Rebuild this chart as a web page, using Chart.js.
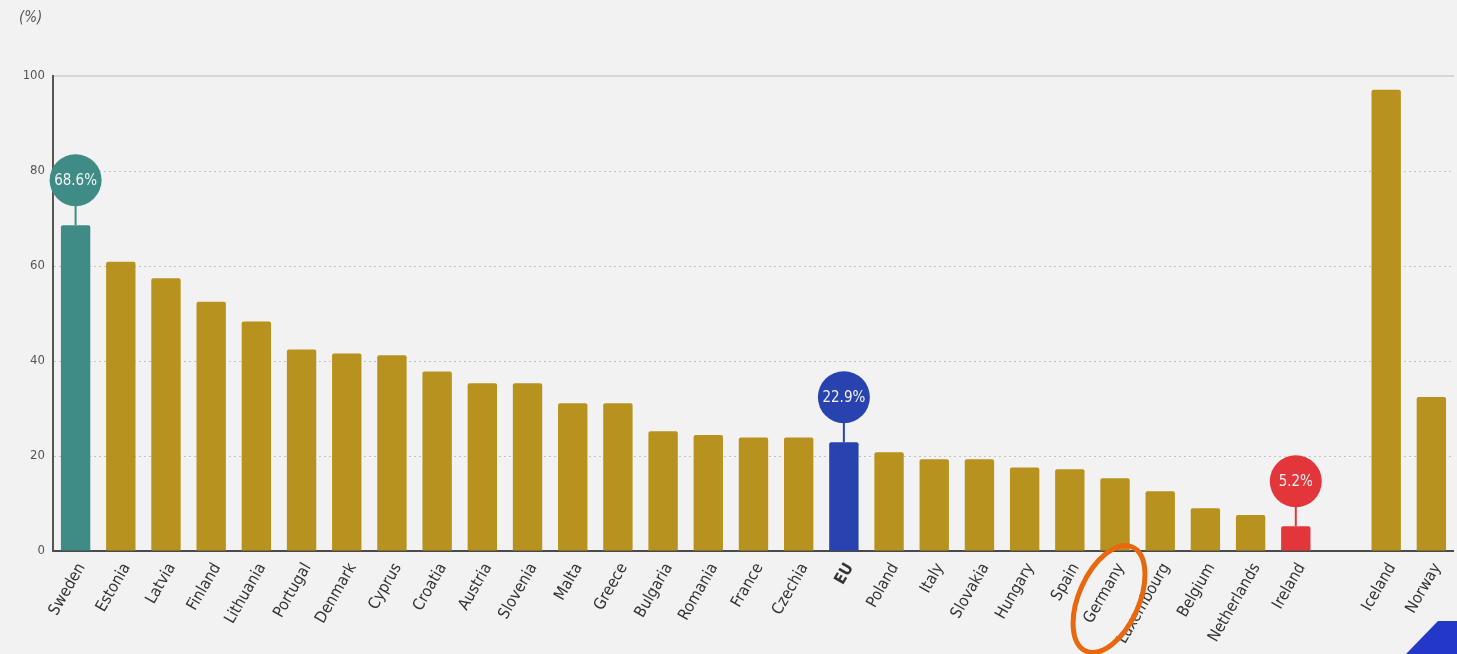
<!DOCTYPE html>
<html>
<head>
<meta charset="utf-8">
<script src="https://cdn.jsdelivr.net/npm/chart.js@4"></script>
<style>
  html, body { margin: 0; padding: 0; background: #f2f2f2; overflow: hidden; }
  #wrap { position: relative; width: 1457px; height: 654px; }
</style>
</head>
<body>
<div id="wrap"><canvas id="chart" width="1457" height="654"></canvas></div>
<script>
const countries = ['Sweden', 'Estonia', 'Latvia', 'Finland', 'Lithuania', 'Portugal', 'Denmark', 'Cyprus',
  'Croatia', 'Austria', 'Slovenia', 'Malta', 'Greece', 'Bulgaria', 'Romania', 'France', 'Czechia', 'EU',
  'Poland', 'Italy', 'Slovakia', 'Hungary', 'Spain', 'Germany', 'Luxembourg', 'Belgium', 'Netherlands',
  'Ireland', '', 'Iceland', 'Norway']
const shares = [68.6, 60.9, 57.4, 52.5, 48.3, 42.4, 41.6, 41.2,
  37.8, 35.3, 35.3, 31.1, 31.1, 25.2, 24.4, 23.9, 23.9, 22.9,
  20.8, 19.3, 19.3, 17.6, 17.2, 15.3, 12.6, 9.0, 7.6,
  5.2, null, 97.1, 32.4]
const yTicks = [0, 20, 40, 60, 80, 100]

// Highlighted bars with a pin label.
const pins = {Sweden: '#3f8b86', EU: '#2842b0', Ireland: '#e2363b'}
const circled = 'Germany'

const gold = '#b7921e'
const labelFont = '"DejaVu Sans Condensed", "Liberation Sans Narrow", sans-serif'

const pinPlugin = {
  id: 'pins',
  afterDatasetsDraw(chart) {
    const ctx = chart.ctx
    const meta = chart.getDatasetMeta(0)
    countries.forEach((name, i) => {
      const color = pins[name]
      if (!color) return
      const bar = meta.data[i]
      const cx = bar.x
      const cy = bar.y - 45
      ctx.save()
      ctx.strokeStyle = color
      ctx.lineWidth = 2
      ctx.beginPath()
      ctx.moveTo(cx, cy + 20)
      ctx.lineTo(cx, bar.y)
      ctx.stroke()
      ctx.fillStyle = color
      ctx.beginPath()
      ctx.arc(cx, cy, 26, 0, Math.PI * 2)
      ctx.fill()
      ctx.fillStyle = '#f4f4f4'
      ctx.font = '15px ' + labelFont
      ctx.textAlign = 'center'
      ctx.textBaseline = 'middle'
      ctx.fillText(shares[i].toFixed(1) + '%', cx, cy + 1)
      ctx.restore()
    })
  },
  afterDraw(chart) {
    const ctx = chart.ctx
    const x = chart.scales.x.getPixelForValue(countries.indexOf(circled))
    ctx.save()
    // orange marker drawn around one label
    ctx.strokeStyle = '#e8680f'
    ctx.lineWidth = 5
    ctx.beginPath()
    ctx.ellipse(x - 6, 599, 30, 57, 0.42, 0, Math.PI * 2)
    ctx.stroke()
    // cropped logo corner
    ctx.fillStyle = '#2338c8'
    ctx.beginPath()
    ctx.moveTo(1406, 654)
    ctx.lineTo(1438, 621)
    ctx.lineTo(1457, 621)
    ctx.lineTo(1457, 654)
    ctx.closePath()
    ctx.fill()
    // unit
    ctx.fillStyle = '#555555'
    ctx.font = 'italic 15px ' + labelFont
    ctx.textAlign = 'left'
    ctx.textBaseline = 'middle'
    ctx.fillText('(%)', 19, 18)
    ctx.restore()
  }
}

new Chart(document.getElementById('chart'), {
  type: 'bar',
  data: {
    labels: countries,
    datasets: [{
      data: shares,
      backgroundColor: countries.map(c => pins[c] || gold),
      borderRadius: {topLeft: 2, topRight: 2},
      borderSkipped: 'bottom',
      barPercentage: 0.65,
      categoryPercentage: 1
    }]
  },
  options: {
    responsive: false,
    animation: false,
    layout: {padding: {top: 76, right: 0, left: 0, bottom: 0}},
    plugins: {legend: {display: false}, tooltip: {enabled: false}},
    scales: {
      x: {
        grid: {display: true, color: 'transparent', drawTicks: false},
        border: {color: '#4a4a4a', width: 2},
        ticks: {
          autoSkip: false,
          minRotation: 60,
          maxRotation: 60,
          padding: 9,
          labelOffset: 6,
          color: '#333333',
          font: (c) => ({
            family: labelFont,
            size: 16,
            weight: countries[c.index] === 'EU' ? 'bold' : 'normal'
          })
        },
        afterFit: (scale) => { scale.height = 103 }
      },
      y: {
        min: 0,
        max: 100,
        afterBuildTicks: (scale) => { scale.ticks = yTicks.map(v => ({value: v})) },
        grid: {
          color: (c) => c.tick && c.tick.value === 100 ? '#d6d6d6' : '#c4c4c4',
          lineWidth: (c) => c.tick && c.tick.value === 100 ? 2 : 1,
          drawTicks: false
        },
        border: {
          color: '#555555',
          width: 2,
          dash: (c) => c.tick && c.tick.value === 100 ? [] : [2, 3]
        },
        ticks: {
          padding: 8,
          color: '#555555',
          font: {family: labelFont, size: 13}
        },
        afterFit: (scale) => { scale.width = 53 }
      }
    }
  },
  plugins: [pinPlugin]
})
</script>
</body>
</html>
